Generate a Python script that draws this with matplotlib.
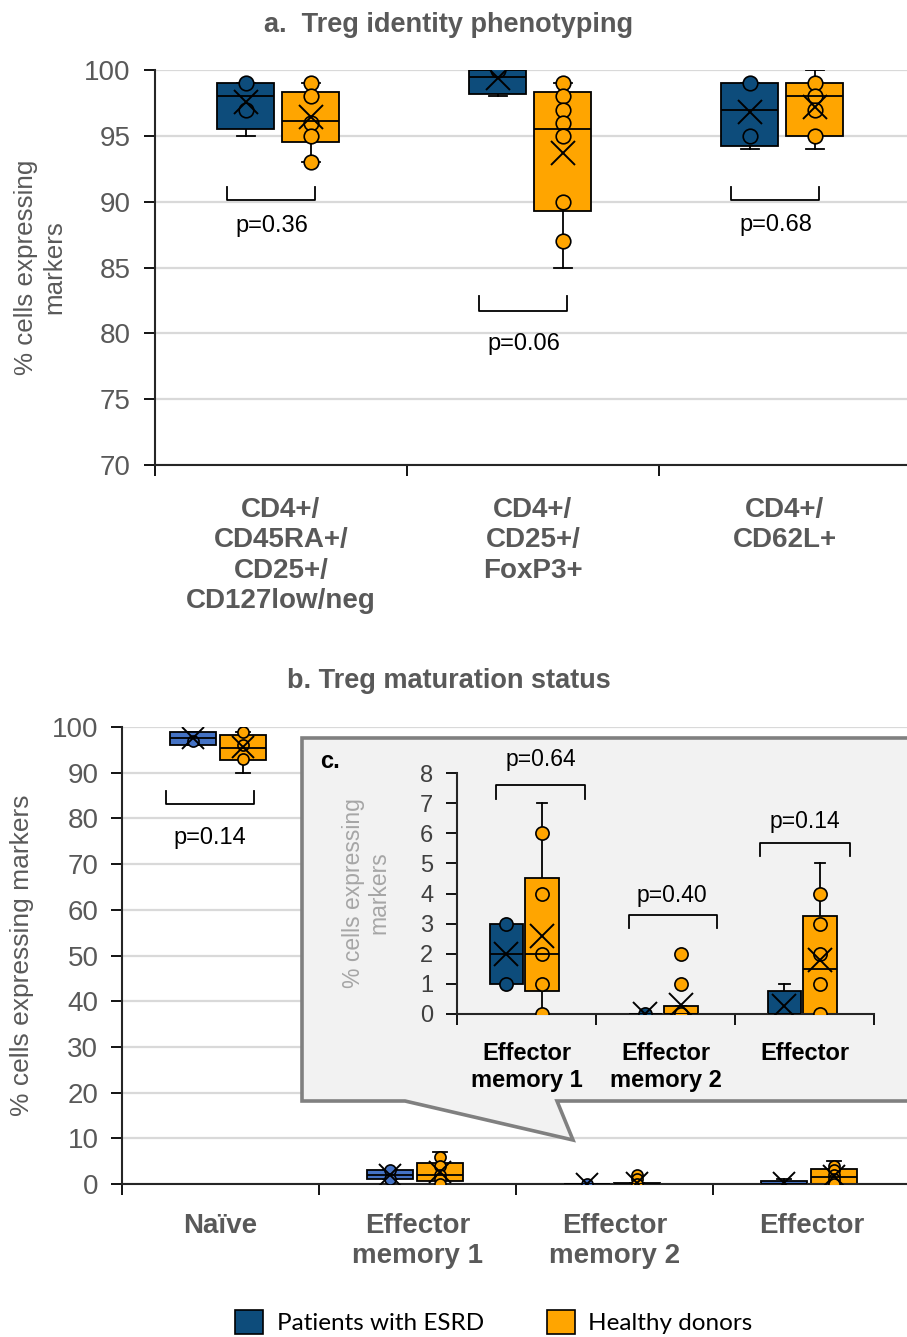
import matplotlib
matplotlib.use("Agg")
import matplotlib.pyplot as plt
from matplotlib.patches import Polygon, Patch

plt.rcParams['font.family'] = ['Liberation Sans', 'DejaVu Sans']

# ---------------- data ----------------
cats_a = ["CD4+/\nCD45RA+/\nCD25+/\nCD127low/neg", "CD4+/\nCD25+/\nFoxP3+", "CD4+/\nCD62L+"]
esrd_a_whislo = [95.0, 98.0, 94.0]
esrd_a_q1 = [95.5, 98.2, 94.2]
esrd_a_med = [98.0, 99.5, 97.0]
esrd_a_q3 = [99.0, 100.0, 99.0]
esrd_a_whishi = [99.0, 100.0, 99.0]
esrd_a_mean = [97.6, 99.4, 96.8]
esrd_a_points = [[99, 97], [100], [99, 95]]
hd_a_whislo = [93.0, 85.0, 94.0]
hd_a_q1 = [94.5, 89.3, 95.0]
hd_a_med = [96.1, 95.5, 98.0]
hd_a_q3 = [98.3, 98.3, 99.0]
hd_a_whishi = [99.0, 99.0, 100.0]
hd_a_mean = [96.4, 93.7, 97.2]
hd_a_points = [[99, 98, 96, 95, 93], [99, 98, 97, 96, 95, 90, 87], [99, 98, 97, 95]]
p_a = ["p=0.36", "p=0.06", "p=0.68"]

cats_b = ["Naïve", "Effector\nmemory 1", "Effector\nmemory 2", "Effector"]
esrd_naive = dict(whislo=96.1, q1=96.1, med=97.5, q3=99.0, whishi=99.0, mean=97.7)
esrd_naive_points = [97]
hd_naive = dict(whislo=90.0, q1=92.8, med=95.4, q3=98.3, whishi=99.0, mean=95.6)
hd_naive_points = [99, 96, 93]
p_naive = "p=0.14"

cats_c = ["Effector\nmemory 1", "Effector\nmemory 2", "Effector"]
esrd_c_whislo = [1.0, 0.0, 0.0]
esrd_c_q1 = [1.0, 0.0, 0.0]
esrd_c_med = [2.0, 0.0, 0.0]
esrd_c_q3 = [3.0, 0.0, 0.75]
esrd_c_whishi = [3.0, 0.0, 1.0]
esrd_c_mean = [2.0, 0.0, 0.25]
esrd_c_points = [[3, 1], [0], []]
hd_c_whislo = [0.0, 0.0, 0.0]
hd_c_q1 = [0.75, 0.0, 0.0]
hd_c_med = [2.0, 0.0, 1.5]
hd_c_q3 = [4.5, 0.25, 3.25]
hd_c_whishi = [7.0, 0.25, 5.0]
hd_c_mean = [2.6, 0.3, 1.8]
hd_c_points = [[6, 4, 2, 1, 0], [2, 1, 0], [4, 3, 2, 1, 0]]
p_c = ["p=0.64", "p=0.40", "p=0.14"]

legend_labels = ["Patients with ESRD", "Healthy donors"]

# ---------------- style ----------------
NAVY = "#0D4C7B"
BLUE_B = "#4472C4"
ORANGE = "#FFA500"
GREY_TXT = "#595959"
GRID = "#D9D9D9"

W, H = 907, 1337
fig = plt.figure(figsize=(W / 100, H / 100), dpi=100)


def fx(px):
    return px / W


def fy(py):
    return 1 - py / H


def stats_list(wl, q1, med, q3, wh, mean):
    return [dict(whislo=a, q1=b, med=c, q3=d, whishi=e, mean=f, fliers=[])
            for a, b, c, d, e, f in zip(wl, q1, med, q3, wh, mean)]


def draw_boxes(ax, stats, positions, points, color, width, ms, xms):
    ax.bxp(stats, positions=positions, widths=width, patch_artist=True,
           showmeans=True, showfliers=False, manage_ticks=False,
           capwidths=width * 0.32,
           boxprops=dict(facecolor=color, edgecolor="black", linewidth=1.3, zorder=2),
           whiskerprops=dict(color="black", linewidth=1.3, zorder=1.9),
           capprops=dict(color="black", linewidth=1.3, zorder=1.9),
           medianprops=dict(color="black", linewidth=1.3, zorder=3.5),
           meanprops=dict(marker="x", markeredgecolor="black", markerfacecolor="black",
                          markersize=xms, markeredgewidth=1.4, zorder=4))
    for x, pts in zip(positions, points):
        if pts:
            ax.plot([x] * len(pts), pts, "o", mfc=color, mec="black", ms=ms, mew=1.2, zorder=3)


def bracket(ax, x0, x1, y_line, y_tip):
    ax.plot([x0, x0, x1, x1], [y_tip, y_line, y_line, y_tip], color="black",
            lw=1.3, clip_on=False, zorder=5)


def style_cat_axis(ax, n, labels, fs, color, pad, ls):
    ax.set_xlim(-0.5, n - 0.5)
    ax.set_xticks([i - 0.5 for i in range(n + 1)])
    ax.set_xticklabels([])
    ax.set_xticks(list(range(n)), minor=True)
    ax.set_xticklabels(labels, minor=True, fontsize=fs, fontweight="bold", color=color,
                       linespacing=ls)
    ax.tick_params(axis="x", which="major", length=8, width=1.3, direction="out")
    ax.tick_params(axis="x", which="minor", length=0, pad=pad)
    for s in ["top", "right"]:
        ax.spines[s].set_visible(False)
    for s in ["left", "bottom"]:
        ax.spines[s].set_linewidth(1.5)
        ax.spines[s].set_color("#262626")


# ---------------- panel a ----------------
ax_a = fig.add_axes([fx(155), fy(465), (911 - 155) / W, (465 - 70) / H])
style_cat_axis(ax_a, 3, cats_a, 20, GREY_TXT, 23, 1.22)
ax_a.set_ylim(70, 100)
ax_a.set_yticks(range(70, 101, 5))
ax_a.tick_params(axis="y", length=8, width=1.3, pad=9.5, labelsize=20, labelcolor=GREY_TXT)
ax_a.grid(axis="y", color=GRID, lw=1.6)
ax_a.set_axisbelow(True)

off_l, off_r, bw = -0.14, 0.118, 0.226
xa = list(range(3))
draw_boxes(ax_a, stats_list(esrd_a_whislo, esrd_a_q1, esrd_a_med, esrd_a_q3, esrd_a_whishi, esrd_a_mean),
           [x + off_l for x in xa], esrd_a_points, NAVY, bw, 10.5, 17)
draw_boxes(ax_a, stats_list(hd_a_whislo, hd_a_q1, hd_a_med, hd_a_q3, hd_a_whishi, hd_a_mean),
           [x + off_r for x in xa], hd_a_points, ORANGE, bw, 10.5, 17)

br_a_line = [90.1, 81.7, 90.1]
br_a_tip = [91.1, 82.8, 91.1]
txt_a_y = [88.15, 79.2, 88.2]
for i in xa:
    bracket(ax_a, i - 0.214, i + 0.135, br_a_line[i], br_a_tip[i])
    ax_a.text(i - 0.035, txt_a_y[i], p_a[i], ha="center", va="center", fontsize=17, color="black")

fig.text(fx(40), fy(267), "% cells expressing\nmarkers", rotation=90, ha="center", va="center",
         fontsize=18.7, color=GREY_TXT, linespacing=1.25)
fig.text(fx(449), fy(25), "a.  Treg identity phenotyping", ha="center", va="center",
         fontsize=19.5, fontweight="bold", color=GREY_TXT)

# ---------------- panel b ----------------
ax_b = fig.add_axes([fx(122), fy(1184), (910 - 122) / W, (1184 - 727) / H])
style_cat_axis(ax_b, 4, cats_b, 20, GREY_TXT, 21, 1.2)
ax_b.set_ylim(0, 100)
ax_b.set_yticks(range(0, 101, 10))
ax_b.tick_params(axis="y", length=8, width=1.3, pad=9, labelsize=20, labelcolor=GREY_TXT)
ax_b.grid(axis="y", color=GRID, lw=1.6)
ax_b.set_axisbelow(True)

offb_l, offb_r, bwb = -0.14, 0.115, 0.23
esrd_b_stats = [dict(esrd_naive, fliers=[])] + stats_list(esrd_c_whislo, esrd_c_q1, esrd_c_med, esrd_c_q3,
                                                          esrd_c_whishi, esrd_c_mean)
hd_b_stats = [dict(hd_naive, fliers=[])] + stats_list(hd_c_whislo, hd_c_q1, hd_c_med, hd_c_q3,
                                                      hd_c_whishi, hd_c_mean)
xb = list(range(4))
draw_boxes(ax_b, esrd_b_stats, [x + offb_l for x in xb], [esrd_naive_points] + esrd_c_points,
           BLUE_B, bwb, 8, 16)
draw_boxes(ax_b, hd_b_stats, [x + offb_r for x in xb], [hd_naive_points] + hd_c_points,
           ORANGE, bwb, 8, 16)
bracket(ax_b, -0.277, 0.17, 83.2, 85.9)
ax_b.text(-0.053, 75.7, p_naive, ha="center", va="center", fontsize=17, color="black")

fig.text(fx(22), fy(955), "% cells expressing markers", rotation=90, ha="center", va="center",
         fontsize=19, color=GREY_TXT)
fig.text(fx(449), fy(681), "b. Treg maturation status", ha="center", va="center",
         fontsize=19.5, fontweight="bold", color=GREY_TXT)

# ---------------- callout (panel c background) ----------------
poly_px = [(302, 738), (915, 738), (915, 1101), (557, 1101), (573, 1140), (405, 1101), (302, 1101)]
callout = Polygon([(fx(x), fy(y)) for x, y in poly_px], closed=True, transform=fig.transFigure,
                  facecolor="#F2F2F2", edgecolor="#808080", lw=2.6, joinstyle="miter", zorder=1)
fig.add_artist(callout)

# ---------------- panel c (inset) ----------------
ax_c = fig.add_axes([fx(457), fy(1014), (874 - 457) / W, (1014 - 773) / H])
ax_c.set_zorder(2)
ax_c.patch.set_alpha(0)
style_cat_axis(ax_c, 3, cats_c, 17, "black", 20, 1.22)
ax_c.set_ylim(0, 8)
ax_c.set_yticks(range(0, 9))
ax_c.tick_params(axis="y", length=8, width=1.3, pad=9, labelsize=17, labelcolor="#404040")
ax_c.tick_params(axis="x", which="major", length=8)

offc_l, offc_r, bwc = -0.144, 0.112, 0.24
xc = list(range(3))
draw_boxes(ax_c, stats_list(esrd_c_whislo, esrd_c_q1, esrd_c_med, esrd_c_q3, esrd_c_whishi, esrd_c_mean),
           [x + offc_l for x in xc], esrd_c_points, NAVY, bwc, 9.5, 17)
draw_boxes(ax_c, stats_list(hd_c_whislo, hd_c_q1, hd_c_med, hd_c_q3, hd_c_whishi, hd_c_mean),
           [x + offc_r for x in xc], hd_c_points, ORANGE, bwc, 9.5, 17)

br_c_x = [(-0.216, 0.424), (-0.266, 0.374), (-0.317, 0.324)]
br_c_line = [7.6, 3.29, 5.67]
br_c_tip = [7.13, 2.85, 5.23]
txt_c_x = [0.104, 0.049, 0.005]
txt_c_y = [8.44, 3.95, 6.39]
for i in xc:
    bracket(ax_c, i + br_c_x[i][0], i + br_c_x[i][1], br_c_line[i], br_c_tip[i])
    ax_c.text(i + txt_c_x[i], txt_c_y[i], p_c[i], ha="center", va="center", fontsize=16.5,
              color="black", clip_on=False)

fig.text(fx(366), fy(893), "% cells expressing\nmarkers", rotation=90, ha="center", va="center",
         fontsize=16.5, color="#A6A6A6", linespacing=1.15, zorder=3)
fig.text(fx(320), fy(761), "c.", ha="left", va="center", fontsize=17, fontweight="bold",
         color="black", zorder=3)

# ---------------- legend ----------------
handles = [Patch(facecolor=NAVY, edgecolor="black", lw=1.2, label=legend_labels[0]),
           Patch(facecolor=ORANGE, edgecolor="black", lw=1.2, label=legend_labels[1])]
fig.legend(handles=handles, loc="center", bbox_to_anchor=(fx(494), fy(1322)), ncol=2,
           frameon=False, prop={"family": "Lato", "size": 17.5}, handlelength=1.15,
           handleheight=1.15, handletextpad=0.55, columnspacing=2.6)

fig.savefig("out.png", dpi=100)
